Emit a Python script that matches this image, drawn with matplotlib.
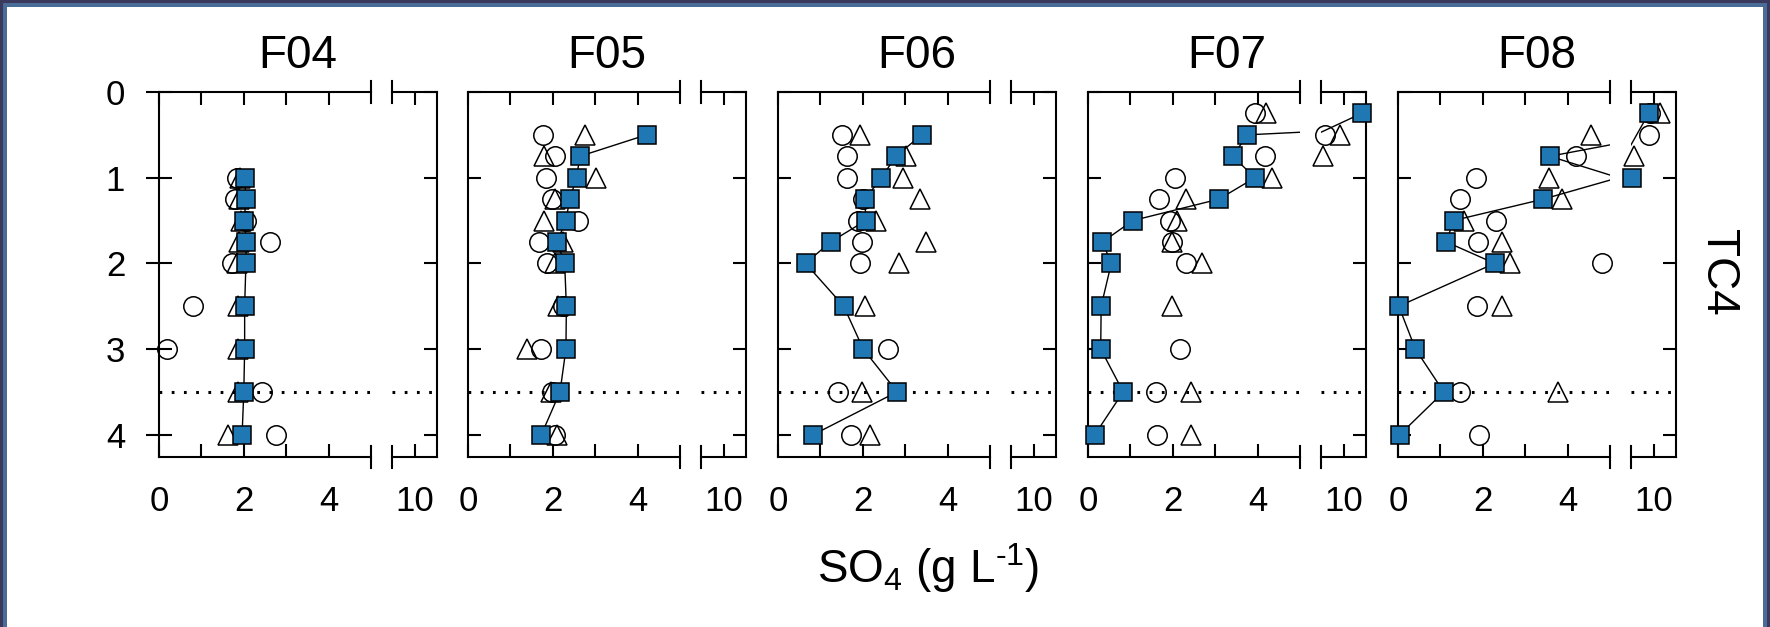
import numpy as np
import matplotlib
matplotlib.use('Agg')
import matplotlib.pyplot as plt
from matplotlib.patches import Rectangle

plt.rcParams['font.family'] = ['Liberation Sans', 'DejaVu Sans']
plt.rcParams['mathtext.fontset'] = 'custom'
plt.rcParams['mathtext.rm'] = 'Liberation Sans'
plt.rcParams['mathtext.it'] = 'Liberation Sans:italic'

names = ['F04', 'F05', 'F06', 'F07', 'F08']

# squares (connected), circles, triangles: SO4 value and depth
f04_sq_x = [2.02, 2.05, 2.01, 2.06, 2.05, 2.02, 2.02, 2.0, 1.96]
f04_sq_d = [1, 1.25, 1.5, 1.75, 2, 2.5, 3, 3.5, 4]
f04_ci_x = [1.83, 1.79, 2.05, 2.61, 1.71, 0.80, 0.19, 2.44, 2.77]
f04_ci_d = [1, 1.25, 1.5, 1.75, 2, 2.5, 3, 3.5, 4]
f04_tr_x = [1.9, 1.88, 1.94, 1.88, 1.84, 1.86, 1.86, 1.86, 1.63]
f04_tr_d = [1, 1.25, 1.5, 1.75, 2, 2.5, 3, 3.5, 4]

f05_sq_x = [4.21, 2.64, 2.56, 2.40, 2.31, 2.10, 2.28, 2.32, 2.31, 2.17, 1.73]
f05_sq_d = [0.5, 0.75, 1, 1.25, 1.5, 1.75, 2, 2.5, 3, 3.5, 4]
f05_ci_x = [1.76, 2.05, 1.85, 1.97, 2.60, 1.68, 1.87, 2.25, 1.73, 1.97, 2.05]
f05_ci_d = [0.5, 0.75, 1, 1.25, 1.5, 1.75, 2, 2.5, 3, 3.5, 4]
f05_tr_x = [2.76, 1.79, 3.03, 2.05, 1.79, 2.25, 2.05, 2.13, 1.38, 1.95, 2.09]
f05_tr_d = [0.5, 0.75, 1, 1.25, 1.5, 1.75, 2, 2.5, 3, 3.5, 4]

f06_sq_x = [3.39, 2.78, 2.44, 2.05, 2.07, 1.24, 0.65, 1.55, 2.01, 2.81, 0.83]
f06_sq_d = [0.5, 0.75, 1, 1.25, 1.5, 1.75, 2, 2.5, 3, 3.5, 4]
f06_ci_x = [1.52, 1.63, 1.63, 2.01, 1.89, 1.99, 1.93, 2.60, 1.42, 1.73]
f06_ci_d = [0.5, 0.75, 1, 1.25, 1.5, 1.75, 2, 3, 3.5, 4]
f06_tr_x = [1.94, 3.03, 2.95, 3.35, 2.31, 3.50, 2.86, 2.06, 1.97, 2.17]
f06_tr_d = [0.5, 0.75, 1, 1.25, 1.5, 1.75, 2, 2.5, 3.5, 4]

f07_sq_x = [14.0, 3.76, 3.41, 3.94, 3.09, 1.06, 0.34, 0.55, 0.31, 0.30, 0.83, 0.16]
f07_sq_d = [0.25, 0.5, 0.75, 1, 1.25, 1.5, 1.75, 2, 2.5, 3, 3.5, 4]
f07_ci_x = [3.94, 5.9, 4.17, 2.05, 1.68, 1.93, 1.99, 2.31, 2.18, 1.60, 1.63]
f07_ci_d = [0.25, 0.5, 0.75, 1, 1.25, 1.5, 1.75, 2, 3, 3.5, 4]
f07_tr_x = [4.20, 9.2, 5.5, 4.33, 2.32, 2.10, 1.99, 2.70, 1.97, 2.44, 2.42]
f07_tr_d = [0.25, 0.5, 0.75, 1, 1.25, 1.5, 1.75, 2, 2.5, 3.5, 4]

f08_sq_x = [8.93, 3.58, 5.2, 3.43, 1.31, 1.14, 2.28, 0.02, 0.41, 1.08, 0.04]
f08_sq_d = [0.25, 0.75, 1, 1.25, 1.5, 1.75, 2, 2.5, 3, 3.5, 4]
f08_ci_x = [9.3, 8.9, 4.19, 1.83, 1.46, 2.30, 1.88, 4.82, 1.87, 1.46, 1.91]
f08_ci_d = [0.25, 0.5, 0.75, 1, 1.25, 1.5, 1.75, 2, 2.5, 3.5, 4]
f08_tr_x = [11.5, 4.56, 5.6, 3.56, 3.86, 1.55, 2.46, 2.65, 2.46, 3.77]
f08_tr_d = [0.25, 0.5, 0.75, 1, 1.25, 1.5, 1.75, 2, 2.5, 3.5]

sq_x = [f04_sq_x, f05_sq_x, f06_sq_x, f07_sq_x, f08_sq_x]
sq_d = [f04_sq_d, f05_sq_d, f06_sq_d, f07_sq_d, f08_sq_d]
ci_x = [f04_ci_x, f05_ci_x, f06_ci_x, f07_ci_x, f08_ci_x]
ci_d = [f04_ci_d, f05_ci_d, f06_ci_d, f07_ci_d, f08_ci_d]
tr_x = [f04_tr_x, f05_tr_x, f06_tr_x, f07_tr_x, f08_tr_x]
tr_d = [f04_tr_d, f05_tr_d, f06_tr_d, f07_tr_d, f08_tr_d]

W, H = 1770, 627
fig = plt.figure(figsize=(W / 100, H / 100), dpi=100)
fig.patch.set_facecolor('#3a385c')
fig.add_artist(Rectangle((3 / W, 0), 1 - 6 / W, 1 - 3 / H, transform=fig.transFigure,
                         facecolor='#4a6d98', edgecolor='none', zorder=-10))
fig.add_artist(Rectangle((7 / W, 0), 1 - 14 / W, 1 - 7 / H, transform=fig.transFigure,
                         facecolor='white', edgecolor='none', zorder=-9))

lefts = [159, 468, 778, 1088, 1398]
bot = 1 - 457 / H
hgt = 365 / H
blue = '#1f77b4'
lw_sp = 1.5
brk = 11 / 365

for i, name in enumerate(names):
    L = lefts[i]
    ax = fig.add_axes([L / W, bot, 212 / W, hgt])
    axr = fig.add_axes([(L + 233) / W, bot, 45 / W, hgt])
    ax.set_xlim(0, 5)
    axr.set_xlim(5, 15)
    for a in (ax, axr):
        a.set_ylim(4.26, 0)
        a.patch.set_alpha(0)
        for s in a.spines.values():
            s.set_linewidth(lw_sp)
        a.axhline(3.5, color='black', lw=2.2, ls=(0, (0.9, 3.1)), zorder=1)
    ax.spines['right'].set_visible(False)
    axr.spines['left'].set_visible(False)

    # break marks
    for a, xb in ((ax, 1), (axr, 0)):
        a.plot([xb, xb], [-brk, brk], transform=a.transAxes, color='black', lw=lw_sp, clip_on=False)
        a.plot([xb, xb], [1 - brk, 1 + brk], transform=a.transAxes, color='black', lw=lw_sp, clip_on=False)

    sx, sd = np.array(sq_x[i]), np.array(sq_d[i])
    cx, cd = np.array(ci_x[i]), np.array(ci_d[i])
    tx, td = np.array(tr_x[i]), np.array(tr_d[i])
    for a, lo, hi in ((ax, -1, 5), (axr, 5, 99)):
        a.plot(sx, sd, color='black', lw=1.0, zorder=5)
        m = (cx > lo) & (cx <= hi)
        a.plot(cx[m], cd[m], 'o', ms=14, mfc='none', mec='black', mew=1.1, clip_on=False, zorder=3)
        m = (tx > lo) & (tx <= hi)
        a.plot(tx[m], td[m], '^', ms=14, mfc='none', mec='black', mew=1.1, clip_on=False, zorder=4)
        m = (sx > lo) & (sx <= hi)
        a.plot(sx[m], sd[m], 's', ms=12.5, mfc=blue, mec='black', mew=1.1, clip_on=False, zorder=6)

    ax.set_xticks([0, 1, 2, 3, 4])
    ax.set_xticklabels(['0', '', '2', '', '4'])
    ax.tick_params(axis='x', direction='in', top=True, bottom=True, length=9.4, width=lw_sp,
                   labelsize=25, pad=20)
    axr.set_xticks([10])
    axr.set_xticklabels(['10'])
    axr.tick_params(axis='x', direction='in', top=True, bottom=True, length=9.4, width=lw_sp,
                    labelsize=25, pad=20)
    ax.set_yticks([0, 1, 2, 3, 4])
    if i == 0:
        ax.tick_params(axis='y', direction='inout', length=18.7, width=lw_sp, labelsize=25, pad=15)
    else:
        ax.tick_params(axis='y', direction='in', length=9.4, width=lw_sp, labelleft=False)
    axr.set_yticks([0, 1, 2, 3, 4])
    axr.tick_params(axis='y', direction='in', left=False, right=True, labelleft=False,
                    length=9.4, width=lw_sp)

    fig.text((L + 139) / W, 1 - 68 / H, name, ha='center', va='baseline', fontsize=33)

fig.text(928 / W, 1 - 583 / H, r'SO$_4$ (g L$^{\text{-}1}$)', ha='center', va='baseline', fontsize=33)
fig.text(1718 / W, 1 - 272 / H, 'TC4', ha='center', va='center', rotation=270, fontsize=33)

fig.savefig('out.png', dpi=100, facecolor=fig.get_facecolor())
